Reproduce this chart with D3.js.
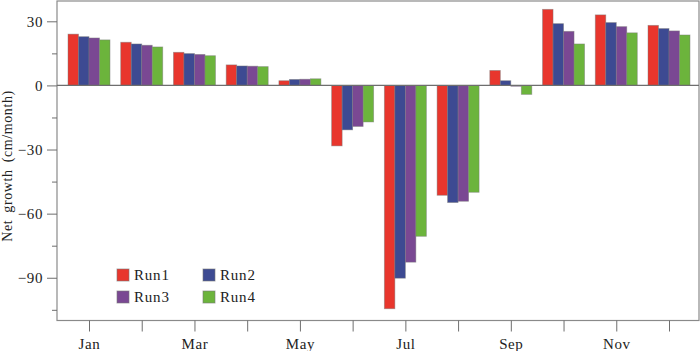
<!DOCTYPE html>
<html>
<head>
<meta charset="utf-8">
<script src="https://cdn.jsdelivr.net/npm/d3@7"></script>
<style>
  body { margin: 0; background: #fff; }
  svg { display: block; font-family: "Liberation Serif", "Times New Roman", serif; }
  .axis path, .axis line { stroke: #6e6e6e; }
  .axis text { fill: #222; font-size: 15px; letter-spacing: 0.6px;
    font-family: "Liberation Serif", "Times New Roman", serif; }
</style>
</head>
<body>
<svg id="chart" width="700" height="351"></svg>
<script>
// monthly net growth for four model runs
const MONTHS = ["Jan","Feb","Mar","Apr","May","Jun","Jul","Aug","Sep","Oct","Nov","Dec"];
const RUNS = ["Run1", "Run2", "Run3", "Run4"];
const RUN1 = [24.0, 20.2, 15.5, 9.6, 2.2, -28.3, -104.5, -51.4, 7.0, 35.6, 33.0, 28.1];
const RUN2 = [22.8, 19.4, 14.9, 9.1, 2.8, -20.8, -90.2, -54.8, 2.2, 28.9, 29.4, 26.6];
const RUN3 = [22.2, 18.8, 14.5, 9.0, 2.9, -19.2, -82.7, -54.2, -0.4, 25.3, 27.5, 25.5];
const RUN4 = [21.3, 18.0, 13.9, 8.8, 3.1, -17.1, -70.6, -50.0, -4.2, 19.4, 24.6, 23.6];
const MAJOR_TICKS = [-90, -60, -30, 0, 30];
const MINOR_TICKS = [-105, -75, -45, -15, 15];
const TICK_MONTHS = ["Jan","Mar","May","Jul","Sep","Nov"];

const COLORS = d3.scaleOrdinal().domain(RUNS)
  .range(["#e8362d", "#3d4a92", "#7a4893", "#6cb43c"]);

const series = [RUN1, RUN2, RUN3, RUN4];
const rows = [];
MONTHS.forEach((m, i) => {
  RUNS.forEach((r, j) => rows.push({month: m, run: r, value: series[j][i]}));
});

const svg = d3.select("#chart");
const mLeft = 57, mRight = 699, mTop = 1, mBottom = 320.5;

const x = d3.scalePoint().domain(MONTHS).range([89, 669]);
const xRun = d3.scaleBand().domain(RUNS).range([-21, 21]).padding(0);
const y = d3.scaleLinear().domain([-110, 39.5]).range([mBottom, mTop]);

// frame
svg.append("rect")
  .attr("x", mLeft).attr("y", mTop)
  .attr("width", mRight - mLeft).attr("height", mBottom - mTop)
  .attr("fill", "none").attr("stroke", "#8a8a8a").attr("stroke-width", 1.2);

// bars
svg.append("g").selectAll("rect.bar").data(rows).join("rect")
  .attr("class", "bar")
  .attr("x", d => x(d.month) + xRun(d.run))
  .attr("width", xRun.bandwidth())
  .attr("y", d => y(Math.max(0, d.value)))
  .attr("height", d => Math.abs(y(d.value) - y(0)))
  .attr("fill", d => COLORS(d.run))
  .attr("stroke", "#7a7a7a").attr("stroke-opacity", 0.55).attr("stroke-width", 0.8);

// zero line
svg.append("line")
  .attr("x1", mLeft).attr("x2", mRight)
  .attr("y1", y(0)).attr("y2", y(0))
  .attr("stroke", "#6e6e6e").attr("stroke-width", 1.2);

// y axis: major with labels, minor without
const fmt = v => v < 0 ? "\u2212" + Math.abs(v) : String(v);
svg.append("g").attr("class", "axis")
  .attr("transform", `translate(${mLeft},0)`)
  .call(d3.axisLeft(y).tickValues(MAJOR_TICKS).tickSize(10).tickPadding(4).tickFormat(fmt))
  .call(g => g.select(".domain").remove());
svg.append("g").attr("class", "axis")
  .attr("transform", `translate(${mLeft},0)`)
  .call(d3.axisLeft(y).tickValues(MINOR_TICKS).tickSize(5).tickFormat(""))
  .call(g => g.select(".domain").remove());

// x axis ticks at every month, labels at odd months
svg.append("g").attr("class", "axis")
  .attr("transform", `translate(0,${mBottom})`)
  .call(d3.axisBottom(x).tickSize(11).tickPadding(7)
    .tickFormat(m => TICK_MONTHS.includes(m) ? m : ""))
  .call(g => g.select(".domain").remove());

// y label
svg.append("text")
  .attr("transform", `translate(12,166) rotate(-90)`)
  .attr("text-anchor", "middle")
  .attr("font-size", 14).attr("letter-spacing", "0.6px")
  .attr("word-spacing", "3px")
  .attr("fill", "#222")
  .text("Net growth (cm/month)");

// legend
const legend = svg.append("g").attr("transform", "translate(117,269)");
RUNS.forEach((r, i) => {
  const g = legend.append("g")
    .attr("transform", `translate(${(i % 2) * 86},${Math.floor(i / 2) * 22})`);
  g.append("rect").attr("width", 12).attr("height", 12)
    .attr("fill", COLORS(r)).attr("stroke", "#7a7a7a").attr("stroke-opacity", 0.6);
  g.append("text").attr("x", 17).attr("y", 11)
    .attr("font-size", 15).attr("letter-spacing", "0.8px").attr("fill", "#222")
    .text(r);
});
</script>
</body>
</html>
